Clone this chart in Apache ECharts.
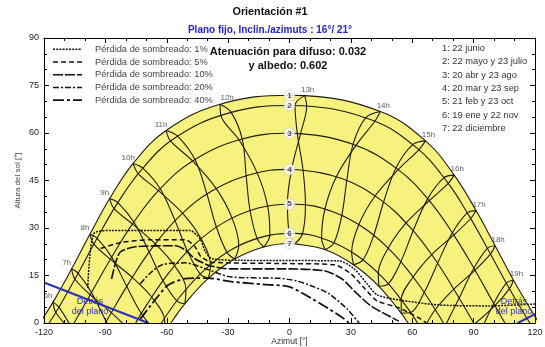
<!DOCTYPE html>
<html><head><meta charset="utf-8">
<script src="https://cdn.jsdelivr.net/npm/echarts@6/dist/echarts.min.js"></script>
<style>html,body{margin:0;padding:0;background:#fff}#c{width:545px;height:347px}</style>
</head><body><div id="c"></div>
<script>
// ---------------- DATA ----------------
const titleText = 'Orientación #1';
const subTitleText = 'Plano fijo, Inclin./azimuts : 16°/ 21°';
const diffuseText = ['Atenuación para difuso: 0.032', 'y albedo: 0.602'];
const dateNames = ['1', '2', '3', '4', '5', '6', '7'];
const dateLegend = ['1: 22 junio', '2: 22 mayo y 23 julio', '3: 20 abr y 23 ago', '4: 20 mar y 23 sep',
  '5: 21 feb y 23 oct', '6: 19 ene y 22 nov', '7: 22 diciembre'];
const hourNames = ['6h','7h','8h','9h','10h','11h','12h','13h','14h','15h','16h','17h','18h','19h'];
const lossNames = ['Pérdida de sombreado: 1%', 'Pérdida de sombreado: 5%', 'Pérdida de sombreado: 10%',
  'Pérdida de sombreado: 20%', 'Pérdida de sombreado: 40%'];
const behindName = 'Detrás\ndel plano';

// sun paths [azimut, altura]
const sunPath1 = [[-122.1,0],[-115.6,6.6],[-106.5,17.1],[-97.5,28.1],[-87.9,39.3],[-76.4,50.4],[-60.3,60.8],[-33.9,69.1],[0,71.9],[7.4,71.8],[44.4,66.8],[66.5,57.5],[80.5,46.7],[91.2,35.5],[100.5,24.4],[109.5,13.5],[118.8,3.3],[122.1,0]];
const sunPath2 = [[-117.5,0],[-113.2,4.4],[-103.9,15.0],[-94.6,26.1],[-84.6,37.3],[-72.5,48.3],[-55.9,58.5],[-30.2,66.2],[0,68.7],[6.4,68.6],[40.2,64.1],[62.2,55.3],[76.9,44.7],[88.0,33.6],[97.7,22.4],[107.0,11.4],[116.5,1.0],[117.5,0]];
const sunPath3 = [[-105.3,0],[-97.0,9.4],[-87.1,20.6],[-76.3,31.7],[-63.5,42.2],[-46.6,51.5],[-23.6,58.0],[0,59.9],[4.9,59.8],[32.0,56.2],[52.8,48.6],[68.1,38.8],[80.1,28.0],[90.5,16.9],[100.2,5.7],[105.3,0]];
const sunPath4 = [[-90,0],[-88.3,1.9],[-78.2,13.0],[-67.1,23.7],[-54.1,33.5],[-38.2,41.6],[-18.5,47.0],[0,48.5],[3.8,48.4],[25.5,45.6],[43.9,39.2],[58.7,30.4],[71.0,20.2],[81.6,9.3],[90,0]];
const sunPath5 = [[-75.2,0],[-70.1,5.4],[-59.3,15.6],[-46.8,24.6],[-32.2,31.7],[-15.3,36.3],[0,37.5],[3.1,37.5],[21.2,35.1],[37.3,29.6],[51.2,21.7],[63.0,12.3],[73.5,1.9],[75.2,0]];
const sunPath6 = [[-62.6,0],[-53.2,8.6],[-41.5,16.8],[-28.1,23.3],[-13.2,27.2],[0,28.3],[2.7,28.3],[18.3,26.2],[32.8,21.4],[45.6,14.3],[56.8,5.5],[62.6,0]];
const sunPath7 = [[-57.9,0],[-51.1,6.1],[-39.7,14.1],[-26.8,20.2],[-12.6,24.0],[0,25.1],[2.5,25.0],[17.5,23.1],[31.3,18.4],[43.7,11.6],[54.6,3.1],[57.9,0]];

// hour lines, first half of the year (Jan-May) and second half (Jul-Nov)
const hourLinesA = [
 [[-115.6,6.6],[-112.7,5.0],[-106.6,-1.4]],
 [[-106.5,17.1],[-103.3,15.7],[-96.8,9.6],[-89.6,0.5],[-82.4,-7.8]],
 [[-97.5,28.1],[-94.0,26.7],[-86.9,20.8],[-79.6,11.6],[-72.5,3.1],[-65.4,-2.7]],
 [[-87.9,39.3],[-83.9,38.0],[-76.1,31.9],[-68.6,22.4],[-61.9,13.4],[-55.1,7.0],[-51.1,6.1]],
 [[-76.4,50.4],[-71.7,48.9],[-63.2,42.4],[-56.0,32.4],[-49.9,22.7],[-43.7,15.5],[-39.7,14.1]],
 [[-60.3,60.8],[-54.7,59.0],[-46.2,51.6],[-40.4,40.8],[-35.8,30.4],[-30.6,22.3],[-26.8,20.2]],
 [[-33.9,69.1],[-28.5,66.5],[-23.1,58.1],[-21.2,46.6],[-19.3,35.6],[-15.9,26.8],[-12.6,24.0]],
 [[7.4,71.8],[8.4,68.5],[5.4,59.8],[1.0,48.5],[-1.0,37.6],[-0.1,28.4],[2.5,25.0]],
 [[44.4,66.8],[41.7,63.7],[32.5,56.1],[22.9,46.2],[17.3,36.0],[15.7,26.8],[17.5,23.1]],
 [[66.5,57.5],[63.2,54.7],[53.1,48.4],[41.8,40.1],[33.9,31.1],[30.4,22.4],[31.3,18.4]],
 [[80.5,46.7],[77.6,44.1],[68.3,38.6],[57.0,31.6],[48.3,23.7],[43.4,15.7],[43.7,11.6]],
 [[91.2,35.5],[88.6,33.0],[80.3,27.8],[69.5,21.6],[60.5,14.6],[54.6,7.2],[54.6,3.1]],
 [[100.5,24.4],[98.3,21.8],[90.6,16.6],[80.3,10.7],[71.1,4.1],[64.9,-2.7]],
 [[109.5,13.5],[107.5,10.8],[100.4,5.5],[90.3,-0.4]]
];
const hourLinesB = [
 [[-115.6,6.6],[-114.2,3.3],[-107.2,-2.0]],
 [[-106.5,17.1],[-104.9,13.9],[-97.4,8.9],[-87.1,3.3],[-77.4,-2.7]],
 [[-97.5,28.1],[-95.6,24.9],[-87.5,20.1],[-76.9,14.4],[-67.4,8.2],[-61.1,1.2],[-60.9,-3.0]],
 [[-87.9,39.3],[-85.7,36.1],[-76.8,31.3],[-65.6,25.0],[-56.2,18.1],[-50.6,10.6],[-51.1,6.1]],
 [[-76.4,50.4],[-74.0,47.2],[-64.1,41.8],[-52.3,34.7],[-43.3,26.7],[-38.6,18.0],[-39.7,14.1]],
 [[-60.3,60.8],[-58.2,57.5],[-47.4,51.2],[-35.9,42.5],[-28.1,33.2],[-24.8,24.5],[-26.8,20.2]],
 [[-33.9,69.1],[-33.6,65.7],[-24.6,57.8],[-15.8,47.4],[-10.7,37.0],[-9.6,27.8],[-12.6,24.0]],
 [[7.4,71.8],[2.7,68.7],[3.8,59.9],[6.6,48.4],[7.8,37.3],[6.3,28.1],[2.5,25.0]],
 [[44.4,66.8],[37.2,64.8],[31.1,56.5],[28.0,45.0],[25.6,34.1],[21.8,25.4],[17.5,23.1]],
 [[66.5,57.5],[60.2,56.3],[52.1,49.0],[46.0,38.2],[41.2,27.8],[36.0,20.0],[31.3,18.4]],
 [[80.5,46.7],[75.5,45.9],[67.5,39.2],[60.5,29.2],[54.5,19.5],[48.4,12.4],[43.7,11.6]],
 [[91.2,35.5],[86.9,34.8],[79.6,28.5],[72.4,18.9],[65.9,9.7],[59.2,3.3],[54.6,3.1]],
 [[100.5,24.4],[96.7,23.6],[90.1,17.3],[83.0,8.0],[76.2,-0.8]],
 [[109.5,13.5],[106.0,12.6],[99.8,6.1],[93.0,-3.3]]
];

// iso-shading loss curves
const loss1 = [[-98.6,11.1],[-95.7,28.2],[-87.4,29.2],[-68.0,29.2],[-48.6,29.2],[-43.7,26.6],[-41.3,22.8],[-37.9,20.3],[-24.3,19.8],[24.3,19.6],[31.6,17.1],[37.9,12.4],[42.8,8.9],[53.4,7.3],[72.9,5.7],[97.2,5.4],[120,6.0]];
const loss5 = [[-92.3,23.5],[-82.6,25.4],[-68.0,26.3],[-51.0,26.3],[-46.2,24.1],[-43.2,20.9],[-37.9,19.2],[-4.9,18.8],[21.9,18.4],[30.1,15.5],[36.4,11.1],[42.8,7.0],[53.4,4.8],[63.2,1.6],[67.0,0]];
const loss10 = [[-87.0,13.9],[-85.0,19.0],[-82.6,22.5],[-75.3,24.1],[-55.9,24.4],[-51.0,23.1],[-46.2,20.3],[-38.9,18.1],[-29.1,17.1],[-4.9,17.1],[17.0,16.5],[25.7,13.9],[32.6,9.5],[39.8,5.4],[48.6,2.2],[53.4,0.6]];
const loss20 = [[-72.9,12.4],[-68.0,15.8],[-62.2,18.4],[-51.0,19.0],[-41.3,17.2],[-29.1,14.6],[-4.9,14.1],[3.4,13.3],[12.1,11.4],[19.4,9.2],[28.2,4.4],[34.0,0]];
const loss40 = [[-72.9,1.3],[-68.0,5.4],[-64.1,8.6],[-59.3,12.0],[-51.0,14.0],[-40.3,14.2],[-27.7,13.0],[-13.1,12.2],[0,11.4],[11.2,7.6],[19.4,4.4],[26.7,1.3],[29.1,0]];

// limits "behind the plane"
const behindLeft = [[-120,12.8],[-69,0]];
const behindRight = [[111.5,0],[120,2.8]];

// ---------------- CHART ----------------
const FONT = '"Liberation Sans", Arial, Helvetica, sans-serif';
const YELLOW = '#f7f17d';
const INK = '#1c1c12';
const BLUE = '#2a2fc0';
const lossLists = [loss1, loss5, loss10, loss20, loss40];
const lossStyles = [
  {type:[2,1.2], width:1.5},
  {type:[5,3], width:1.5},
  {type:[10,2], width:1.6},
  {type:[6,2,2,2], width:1.5},
  {type:[11,3,3,3], width:1.8}
];
const sunPaths = [sunPath1, sunPath2, sunPath3, sunPath4, sunPath5, sunPath6, sunPath7];

const series = [];
series.push({type:'line', data:sunPath1, smooth:0.4, symbol:'none', silent:true, z:1,
  lineStyle:{color:INK, width:1.1}, areaStyle:{color:YELLOW, opacity:1}});
series.push({type:'line', data:sunPath7, smooth:0.4, symbol:'none', silent:true, z:1,
  lineStyle:{color:INK, width:1.1}, areaStyle:{color:'#ffffff', opacity:1}});
for (let i = 1; i < 6; i++) {
  series.push({type:'line', data:sunPaths[i], smooth:0.4, symbol:'none', silent:true, z:2,
    lineStyle:{color:INK, width:1.1}});
}
[hourLinesA, hourLinesB].forEach(set => set.forEach(pts => {
  series.push({type:'line', data:pts, smooth:0.35, symbol:'none', silent:true, z:2,
    lineStyle:{color:INK, width:1.1}});
}));
lossLists.forEach((pts, i) => {
  series.push({type:'line', name:lossNames[i], data:pts, smooth:0.25, symbol:'none', silent:true, z:3,
    lineStyle:{color:'#111', width:lossStyles[i].width, type:lossStyles[i].type}});
});
[behindLeft, behindRight].forEach(pts => {
  series.push({type:'line', data:pts, symbol:'none', silent:true, z:3, lineStyle:{color:BLUE, width:2}});
});
// hour labels at the top of each hour line
series.push({type:'scatter', symbolSize:0, silent:true, z:5,
  data: hourLinesA.map((l, i) => ({value:l[0], name:hourNames[i],
    label:{offset:[i <= 5 ? -5 : (i === 6 ? 7 : 3), 0]}})),
  label:{show:true, position:'top', distance:2, formatter:p => p.name,
    fontSize:8, color:'#333', fontFamily:FONT}});
// date numbers
series.push({type:'scatter', symbol:'circle', symbolSize:11, silent:true, z:6,
  data: sunPaths.map((p, i) => ({value:p.find(q => q[0] === 0), name:dateNames[i]})),
  itemStyle:{color:'#ffffff', borderColor:'#b8b8c8', borderWidth:0.6},
  label:{show:true, position:'inside', formatter:p => p.name, fontSize:8, fontWeight:'bold',
    color:'#1d1d45', fontFamily:FONT}});

const axisCommon = {
  axisLine:{show:true, onZero:false, lineStyle:{color:'#000', width:1}},
  axisTick:{show:true, inside:true, length:5, lineStyle:{color:'#000', width:1}},
  minorTick:{show:true, splitNumber:3, length:3, lineStyle:{color:'#000', width:1}},
  splitLine:{show:false}, minorSplitLine:{show:false}, z:10
};

const graphic = [];
graphic.push({type:'text', silent:true, z:20, style:{text:titleText, x:270, y:12, align:'center', textAlign:'center',
  verticalAlign:'middle', textVerticalAlign:'middle', font:'bold 10.8px ' + FONT, fill:'#111'}});
graphic.push({type:'text', silent:true, z:20, style:{text:subTitleText, x:270, y:30, align:'center', textAlign:'center',
  verticalAlign:'middle', textVerticalAlign:'middle', font:'bold 10px ' + FONT, fill:'#2323d0'}});
diffuseText.forEach((t, i) => graphic.push({type:'text', silent:true, z:20, style:{text:t, x:288, y:51.5 + i*14,
  align:'center', textAlign:'center', verticalAlign:'middle', textVerticalAlign:'middle',
  font:'bold 11px ' + FONT, fill:'#111'}}));
dateLegend.forEach((t, i) => graphic.push({type:'text', silent:true, z:20, style:{text:t, x:442, y:48.5 + i*13.3,
  align:'left', textAlign:'left', verticalAlign:'middle', textVerticalAlign:'middle',
  font:'9.3px ' + FONT, fill:'#333'}}));
lossNames.forEach((t, i) => {
  const y = 49.3 + i*12.7;
  graphic.push({type:'line', silent:true, z:20, shape:{x1:53, y1:y, x2:82, y2:y},
    style:{stroke:'#111', lineWidth:lossStyles[i].width, lineDash:lossStyles[i].type}});
  graphic.push({type:'text', silent:true, z:20, style:{text:t, x:95, y:y, align:'left', textAlign:'left',
    verticalAlign:'middle', textVerticalAlign:'middle', font:'9.3px ' + FONT, fill:'#444'}});
});
[[90, 307], [514, 307]].forEach(([x, y]) => graphic.push({type:'text', silent:true, z:20,
  style:{text:behindName, x:x, y:y, align:'center', textAlign:'center', verticalAlign:'middle',
  textVerticalAlign:'middle', font:'9px ' + FONT, fill:BLUE, lineHeight:10}}));

const option = {
  animation:false,
  backgroundColor:'#ffffff',
  grid:{left:44, right:10, top:38, bottom:24, containLabel:false, outerBoundsMode:'none'},
  xAxis:[
    Object.assign({type:'value', min:-120, max:120, interval:30, position:'bottom',
      axisLabel:{color:'#222', fontSize:9, margin:5, fontFamily:FONT},
      name:'Azimut [°]', nameLocation:'middle', nameGap:14, nameMoveOverlap:false,
      nameTextStyle:{fontSize:8.5, color:'#333', fontFamily:FONT}}, axisCommon),
    Object.assign({type:'value', min:-120, max:120, interval:30, position:'top',
      axisLabel:{show:false}}, axisCommon)
  ],
  yAxis:[
    Object.assign({type:'value', min:0, max:90, interval:15, position:'left',
      axisLabel:{color:'#222', fontSize:9, margin:5, fontFamily:FONT},
      name:'Altura del sol [°]', nameLocation:'middle', nameGap:22, nameRotate:90, nameMoveOverlap:false,
      nameTextStyle:{fontSize:8, color:'#444', fontFamily:FONT}}, axisCommon),
    Object.assign({type:'value', min:0, max:90, interval:15, position:'right',
      axisLabel:{show:false}}, axisCommon)
  ],
  series: series,
  graphic: graphic
};
const chart = echarts.init(document.getElementById('c'));
chart.setOption(option);
</script>
</body></html>
